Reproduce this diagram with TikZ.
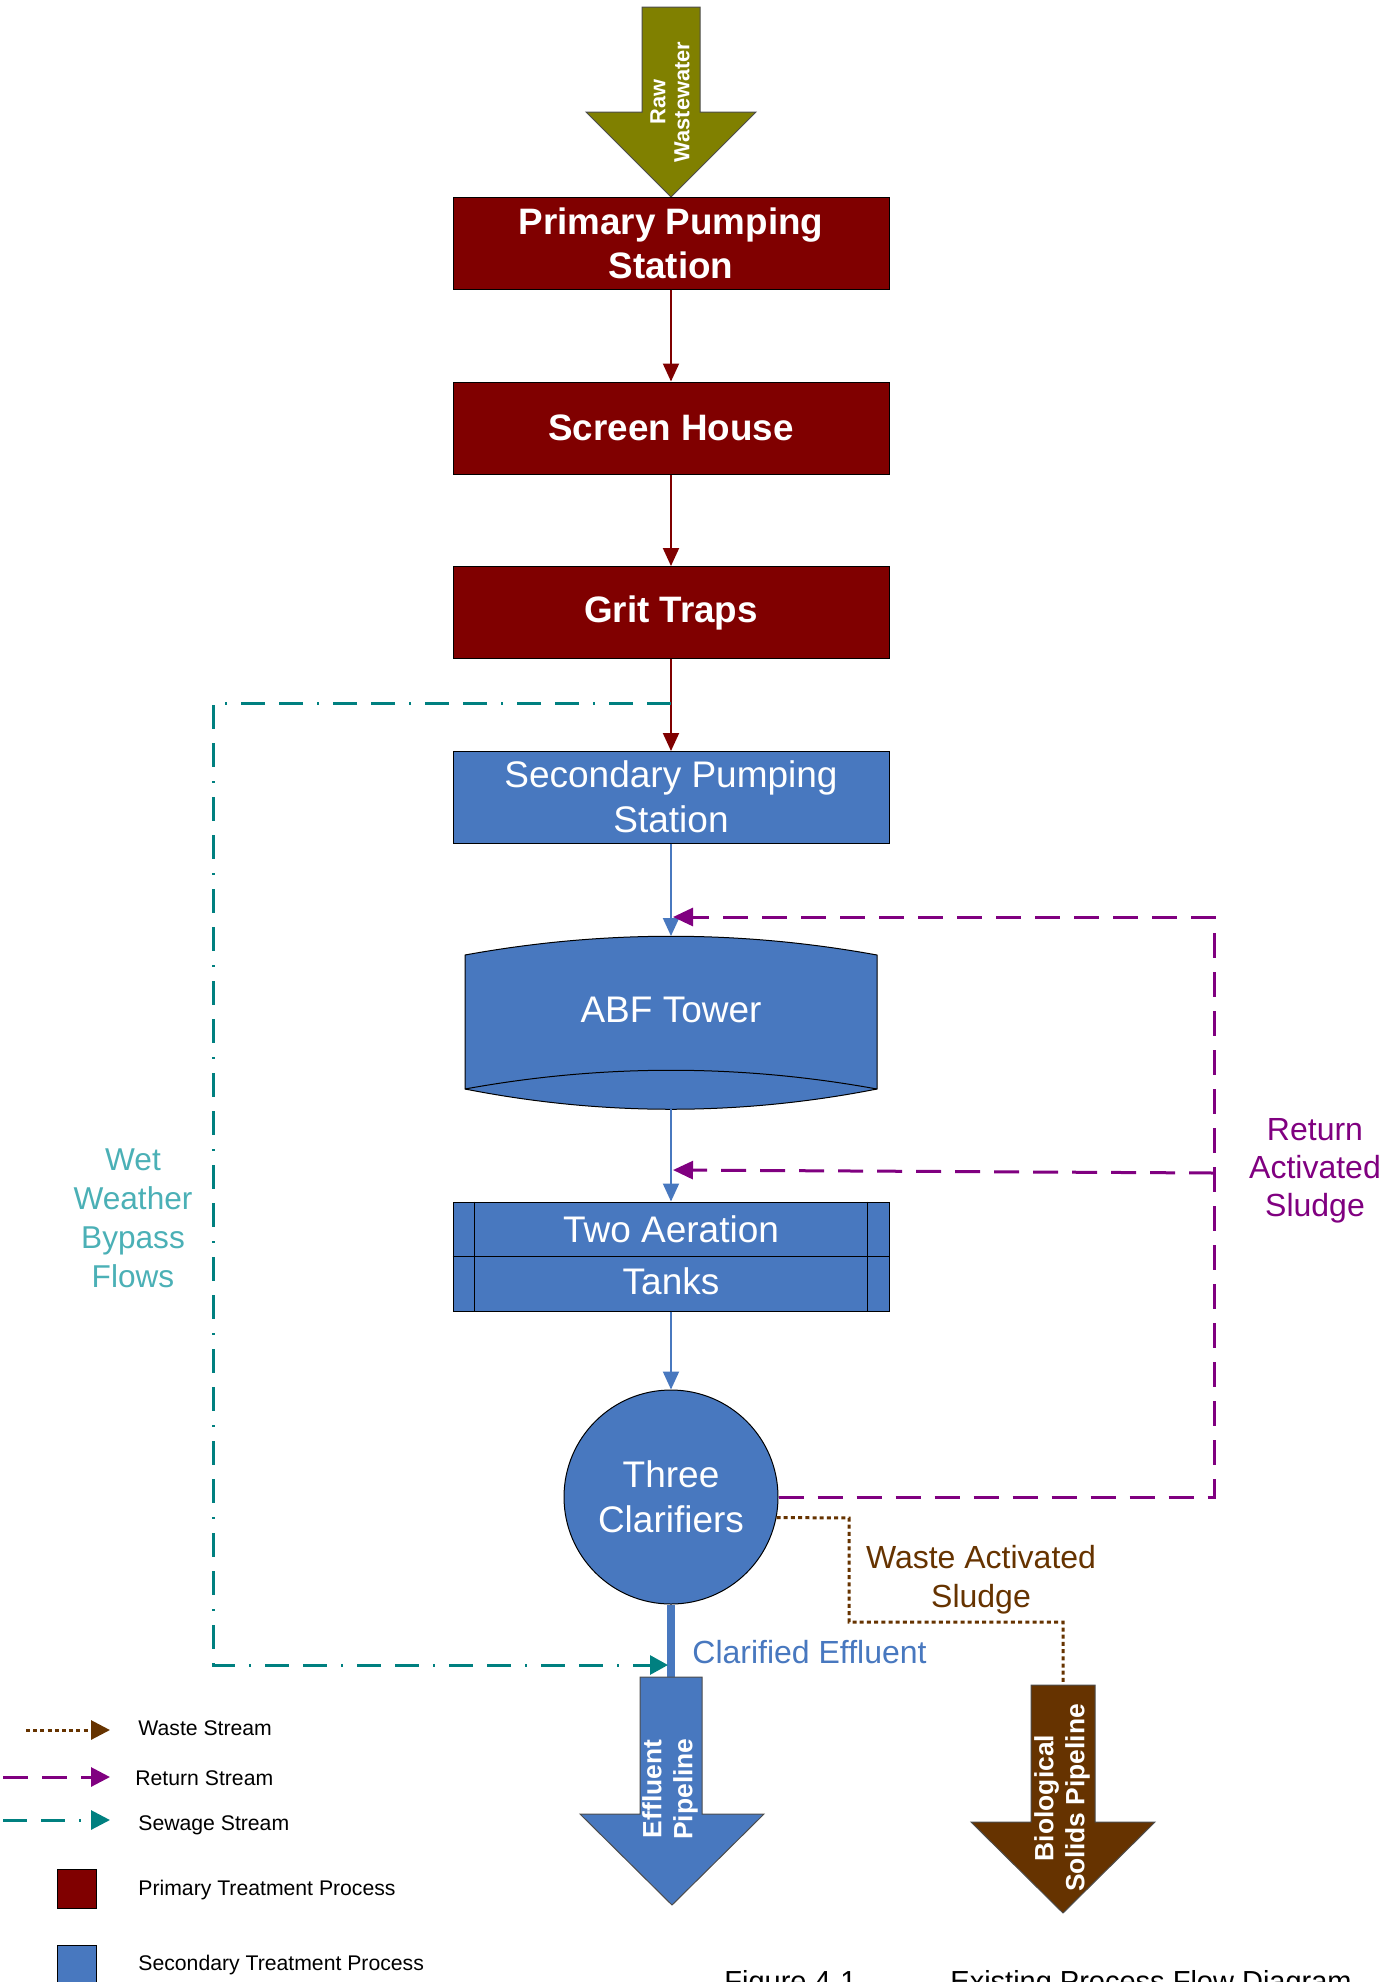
\documentclass[tikz,border=0pt]{standalone}
\usepackage{fontspec}
\setmainfont{Liberation Sans}
\usepackage{xcolor}
\usepackage{tikz}
\usetikzlibrary{arrows.meta}
\usetikzlibrary{calc}
\definecolor{primred}{RGB}{128,0,0}
\definecolor{secblue}{RGB}{72,120,191}
\definecolor{rawolive}{RGB}{128,128,0}
\definecolor{sludgebrown}{RGB}{102,51,0}
\definecolor{retpurple}{RGB}{128,0,128}
\definecolor{sewteal}{RGB}{0,128,128}
\definecolor{wetteal}{RGB}{75,176,182}

\tikzset{
  primbox/.style={draw=black, line width=0.5pt, fill=primred, text=white, align=center, inner sep=0pt,
    minimum width=218pt, minimum height=46pt, font=\bfseries\fontsize{18.4}{22}\selectfont},
  secbox/.style={draw=black, line width=0.5pt, fill=secblue, text=white, align=center, inner sep=0pt,
    minimum width=218pt, minimum height=46pt, font=\fontsize{18.5}{22.5}\selectfont},
  sectext/.style={text=white, align=center, inner sep=0pt, font=\fontsize{18.5}{22.5}\selectfont},
  redflow/.style={draw=primred, line width=1pt, -{Triangle[length=9pt,width=8pt]}},
  blueflow/.style={draw=secblue, line width=1pt, -{Triangle[length=9pt,width=8pt]}},
  retflow/.style={draw=retpurple, line width=1.5pt, dash pattern=on 12.5pt off 7pt},
  sewflow/.style={draw=sewteal, line width=1.5pt, dash pattern=on 12pt off 7pt on 12pt off 7pt on 1pt off 7pt},
  wasteflow/.style={draw=sludgebrown, line width=1.5pt, dash pattern=on 2pt off 1.6pt},
  pipetext/.style={rotate=90, text=white, align=center, inner sep=0pt, font=\bfseries\fontsize{13.2}{15.5}\selectfont},
  legtext/.style={anchor=base west, inner sep=0pt, font=\fontsize{10.6}{13}\selectfont},
}

\begin{document}
\begin{tikzpicture}[x=0.5pt,y=-0.5pt]
        \useasboundingbox (0,0) rectangle (1395,1982);
        \clip (0,0) rectangle (1395,1982);

        % Raw wastewater
        \filldraw[fill=rawolive, draw=black!70, line width=0.5pt] (642,7) -- (700,7) -- (700,112) -- (756,112)
            -- (671,197) -- (586,112) -- (642,112) -- cycle;
        \node[rotate=90, text=white, align=center, inner sep=0pt, font=\bfseries\fontsize{10.9}{12}\selectfont]
            (raw) at (670,102) {Raw\\Wastewater};

        % Primary treatment
        \node[primbox] (prim) at (671,243) {Primary Pumping\\Station};
        \node[primbox] (screen) at (671,428) {Screen House};
        \node[primbox] (grit) at (671,612.5) {Grit Traps};
        \draw[redflow] (prim) -- (screen);
        \draw[redflow] (screen) -- (grit);
        \draw[redflow] (grit) -- (671,751);

        % Secondary treatment
        \node[secbox] (sec) at (671,797) {Secondary Pumping\\Station};
        \coordinate (abftop) at (671,936);
        \coordinate (abfbot) at (671,1109);
        \filldraw[fill=secblue, draw=black, line width=0.5pt] (465,955) .. controls (602,930) and (740,930) .. (877,955)
            -- (877,1089) .. controls (740,1116) and (602,1116) .. (465,1089) -- cycle;
        \draw[line width=0.5pt] (465,1089) .. controls (602,1064) and (740,1064) .. (877,1089);
        \node[sectext] (abf) at (671,1010) {ABF Tower};

        \node[secbox, minimum height=54.5pt] (aer) at (671,1256.5) {};
        \draw[line width=0.5pt] (aer.west) -- (aer.east);
        \draw[line width=0.5pt] ([xshift=11pt]aer.north west) -- ([xshift=11pt]aer.south west);
        \draw[line width=0.5pt] ([xshift=-11pt]aer.north east) -- ([xshift=-11pt]aer.south east);
        \node[sectext] (aertop) at ($(aer.center)!0.5!(aer.north)$) {Two Aeration};
        \node[sectext] (aerbot) at ([yshift=1.5pt]$(aer.center)!0.5!(aer.south)$) {Tanks};

        \node[circle, draw=black, line width=0.5pt, fill=secblue, minimum size=107pt, sectext] (clar) at (671,1497) {Three\\Clarifiers};

        \draw[blueflow] (sec) -- (abftop);
        \draw[blueflow] (abfbot) -- (aer);
        \draw[blueflow] (aer) -- (clar);

        % Effluent pipeline
        \coordinate (efftop) at (671,1677);
        \draw[secblue, line width=4pt] (clar.south) -- (efftop);
        \filldraw[fill=secblue, draw=black!70, line width=0.5pt] (640,1677) -- (702,1677) -- (702,1814) -- (764,1814)
            -- (672,1905) -- (580,1814) -- (640,1814) -- cycle;
        \node[pipetext] (eff) at (670,1789) {Effluent\\Pipeline};
        \node[anchor=base west, inner sep=0pt, text=secblue, font=\fontsize{16}{19}\selectfont] (clarlbl) at (692,1663) {Clarified Effluent};

        % Biological solids pipeline
        \coordinate (biotop) at (1063,1685);
        \filldraw[fill=sludgebrown, draw=black!70, line width=0.5pt] (1031,1685) -- (1095,1685) -- (1095,1822) -- (1155,1822)
            -- (1063,1913) -- (971,1822) -- (1031,1822) -- cycle;
        \node[pipetext] (bio) at (1062,1798) {Biological\\Solids Pipeline};

        % Waste activated sludge
        \coordinate (wst1) at (849,1518);
        \coordinate (wst2) at (849,1622);
        \coordinate (wst3) at (1063,1622);
        \draw[wasteflow] (clar.-11) -- (wst1) -- (wst2) -- (wst3) -- (biotop);
        \node[align=center, inner sep=0pt, text=sludgebrown, font=\fontsize{16}{19.5}\selectfont] (wastelbl) at (981,1580) {Waste Activated\\Sludge};

        % Return activated sludge
        \coordinate (ret1) at (1214,1497);
        \coordinate (ret2) at (1214,917);
        \coordinate (retin1) at (673,917);
        \coordinate (retmid) at (1214,1173);
        \coordinate (retin2) at (673,1170);
        \draw[retflow, -{Triangle[length=10pt,width=9pt]}] (clar.east) -- (ret1) -- (ret2) -- (retin1);
        \draw[retflow, -{Triangle[length=10pt,width=9pt]}] (retmid) -- (retin2);
        \node[align=center, inner sep=0pt, text=retpurple, font=\fontsize{16}{19}\selectfont] (retlbl) at (1315,1171) {Return\\Activated\\Sludge};

        % Wet weather bypass
        \coordinate (sewtap) at (671,703);
        \coordinate (sew1) at (213,703);
        \coordinate (sew2) at (213,1665);
        \coordinate (sewin) at (668,1665);
        \draw[sewflow, -{Triangle[length=9pt,width=9.5pt]}] (sewtap) -- (sew1) -- (sew2) -- (sewin);
        \node[align=center, inner sep=0pt, text=wetteal, font=\fontsize{15.8}{19.5}\selectfont] (wetlbl) at (133,1218) {Wet\\Weather\\Bypass\\Flows};

        % Legend
        \coordinate (lw1) at (26,1730);
        \coordinate (lw2) at (110,1730);
        \draw[wasteflow, -{Triangle[length=9.5pt,width=9.5pt]}] (lw1) -- (lw2);
        \node[legtext] (lwt) at (138,1735) {Waste Stream};
        \coordinate (lr1) at (3,1777);
        \coordinate (lr2) at (110,1777);
        \draw[retflow, -{Triangle[length=9.5pt,width=9.5pt]}] (lr1) -- (lr2);
        \node[legtext] (lrt) at (135,1785) {Return Stream};
        \coordinate (ls1) at (3,1820);
        \coordinate (ls2) at (110,1820);
        \draw[sewflow, -{Triangle[length=9.5pt,width=9.5pt]}] (ls1) -- (ls2);
        \node[legtext] (lst) at (138,1830) {Sewage Stream};
        \node[draw=black, line width=0.5pt, fill=primred, minimum size=19.5pt, inner sep=0pt] (lprim) at (76.5,1888.5) {};
        \node[legtext] (lpt) at (138,1895) {Primary Treatment Process};
        \node[draw=black, line width=0.5pt, fill=secblue, minimum size=19.5pt, inner sep=0pt] (lsec) at (76.5,1964.5) {};
        \node[legtext] (lsct) at (138,1970) {Secondary Treatment Process};

        % Caption
        \node[anchor=base west, inner sep=0pt, font=\fontsize{14.5}{17}\selectfont] (figno) at (724,1991) {Figure 4-1};
        \node[anchor=base west, inner sep=0pt, font=\fontsize{14.5}{17}\selectfont] (figtitle) at (950,1991) {Existing Process Flow Diagram};
    \end{tikzpicture}
\end{document}
